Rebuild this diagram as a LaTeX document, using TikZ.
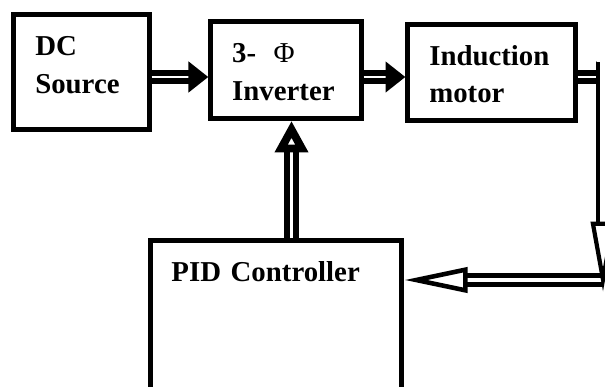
\documentclass[tikz,border=0pt]{standalone}
\usepackage{fontspec}
\setmainfont{Liberation Serif}
\usetikzlibrary{arrows.meta,calc}

\begin{document}
\begin{tikzpicture}[x=0.02cm, y=-0.02cm,
    box/.style={draw, line width=2.83pt, align=left, inner xsep=12.2pt, inner ysep=0pt,
      font=\fontsize{16.4pt}{21.5pt}\selectfont\bfseries},
    flow/.style={double, line width=3.2pt, double distance=1.6pt,
      -{Triangle[length=11.3pt, width=17pt]}},
    upflow/.style={double, line width=3.4pt, double distance=1.7pt,
      -{Triangle[open, length=18pt, width=18pt, line width=4.6pt]}},
    backflow/.style={double, line width=2.8pt, double distance=2.8pt,
      -{Triangle[open, length=36pt, width=14.2pt, line width=2.6pt]}}]
    \useasboundingbox (0,0) rectangle (605,386);
    \clip (0,0) rectangle (605,386);
    % blocks
    \node[box, minimum width=77pt, text width=52.6pt, text height=23.2pt, text depth=42pt]
        (dc) at (81.5,72) {DC\\Source};
    \node[box, minimum width=85.6pt, text width=61.2pt, text height=23.5pt, text depth=31.5pt]
        (inv) at (286,70) {3-\hspace{0.6em}{\mdseries Φ}\\Inverter};
    \node[box, minimum width=95.2pt, text width=70.8pt, text height=23pt, text depth=31.5pt]
        (mot) at (491.5,72.5) {Induction\\motor};
    \node[box, anchor=north, minimum width=143.4pt, text width=119pt,
        text height=23.5pt, text depth=80pt]
        (pid) at (276,238) {PID Controller};
    % feedback path
    \coordinate (out) at (616,77);
    \coordinate (fbtop) at (603,62);
    \coordinate (fbend) at (603,292);
    \coordinate (fbstart) at (603,280);
    % arrows
    \draw[flow] (dc.east |- 0,77) -- (inv.west |- 0,77);
    \draw[flow] (inv.east |- 0,77) -- (mot.west |- 0,77);
    \draw[flow] (mot.east |- 0,77) -- (out);
    \draw[backflow] (fbstart) -- (pid.east |- 0,280);
    \draw[double, line width=2.3pt, double distance=3.4pt,
        -{Triangle[open, length=40pt, width=13.6pt, line width=2.4pt]}] (fbtop) -- (fbend);
    \draw[upflow] (pid.north -| 291.5,0) -- (inv.south -| 291.5,0);
\end{tikzpicture}
\end{document}
